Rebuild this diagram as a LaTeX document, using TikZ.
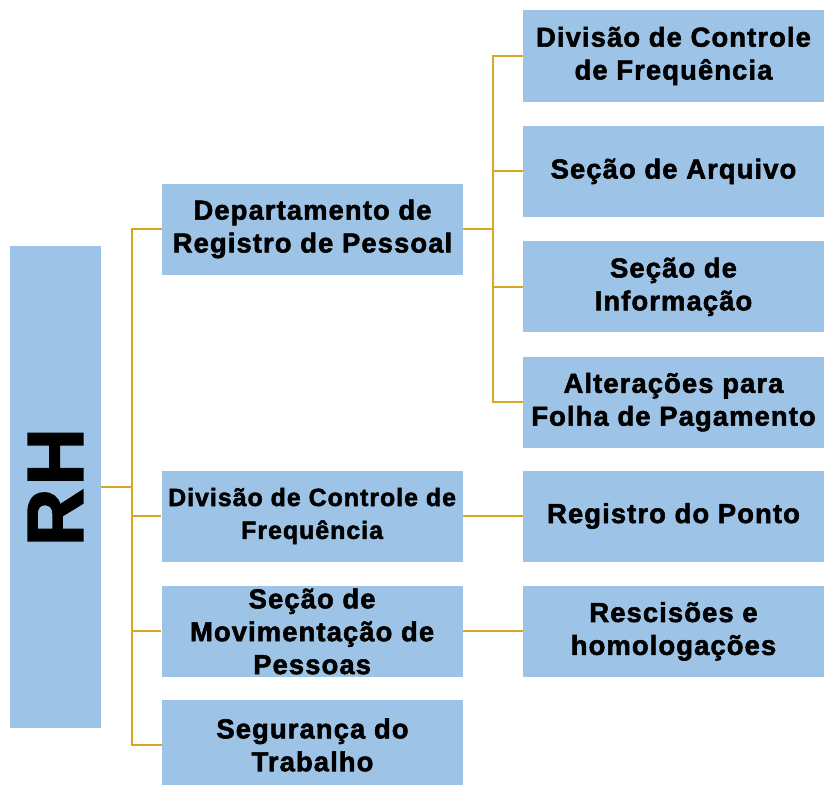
\documentclass[tikz,border=0pt]{standalone}
\usepackage{fontspec}
\setmainfont{Liberation Sans}[LetterSpace=4, BoldFeatures={FakeBold=2}]
\usetikzlibrary{positioning, calc}
\definecolor{boxblue}{RGB}{157,195,230}
\definecolor{linegold}{RGB}{218,168,32}

\begin{document}
\begin{tikzpicture}[
    x=1bp, y=-1bp,
    node distance=24bp and 60bp,
    box/.style={fill=boxblue, align=center, inner xsep=0pt, inner ysep=-5pt, minimum width=301bp, minimum height=91bp,
      font=\fontsize{27.5}{33}\selectfont\bfseries},
    conn/.style={draw=linegold, line width=2bp}
  ]
  \useasboundingbox (0,0) rectangle (825,785);

  % root
  \node[fill=boxblue, inner sep=0pt, minimum width=91bp, minimum height=482bp] (rh) at (55.5,487) {};
  \node[rotate=90, font=\fontsize{80}{80}\selectfont\bfseries] (rhtxt) at (rh.center) {RH};

  % second level, right column
  \node[box] (frq) at (673.5,56) {Divisão de Controle\\de Frequência};
  \node[box, below=of frq] (arq) {Seção de Arquivo};
  \node[box, below=of arq] (inf) {Seção de\\Informação};
  \node[box, below=of inf] (alt) {Alterações para\\Folha de Pagamento};
  \node[box] (pto) at (673.5,516) {Registro do Ponto};
  \node[box, below=of pto] (res) {Rescisões e\\homologações};

  % first level
  \node[box] (dep) at (312.5,229) {Departamento de\\Registro de Pessoal};
  \node[box, left=of pto, font=\fontsize{25}{33}\selectfont\bfseries] (div) {Divisão de Controle de\\Frequência};
  \node[box, left=of res] (mov) {Seção de\\Movimentação de\\Pessoas};
  \node[box] (seg) at (312.5,745) {Segurança do\\Trabalho};

  % connectors
  \coordinate (j1) at ($(rh.east)+(31,0)$);
  \coordinate (j2) at ($(dep.east)+(30,0)$);
  \draw[conn] (rh.east) -- (j1);
  \draw[conn] (j1) |- (dep.west);
  \draw[conn] (j1) |- (div.west);
  \draw[conn] (j1) |- (mov.west);
  \draw[conn] (j1) |- (seg.west);
  \draw[conn] (dep.east) -- (j2);
  \draw[conn] (j2) |- (frq.west);
  \draw[conn] (j2) |- (arq.west);
  \draw[conn] (j2) |- (inf.west);
  \draw[conn] (j2) |- (alt.west);
  \draw[conn] (div) -- (pto);
  \draw[conn] (mov) -- (res);
\end{tikzpicture}
\end{document}
